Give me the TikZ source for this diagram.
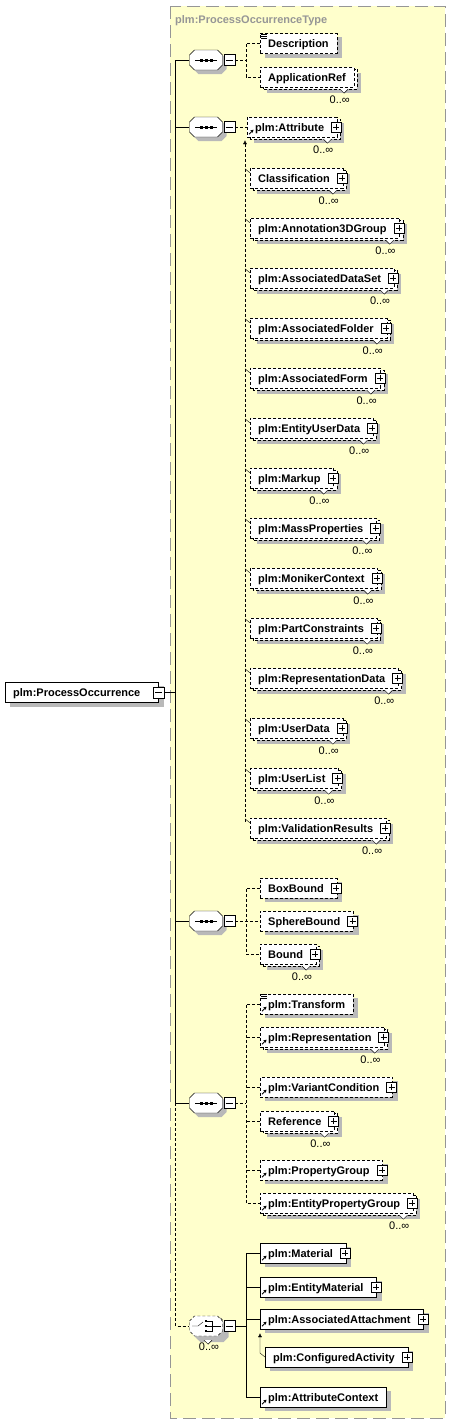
\documentclass[tikz,border=0pt]{standalone}
\usepackage{fontspec}
\setmainfont{Liberation Sans}
\usetikzlibrary{positioning,arrows.meta}
\pgfdeclarelayer{typebg}
\pgfdeclarelayer{shade}
\pgfsetlayers{typebg,shade,main}
\definecolor{typeyellow}{RGB}{255,255,204}
\definecolor{typegray}{RGB}{150,150,150}
\definecolor{shadowgray}{RGB}{185,185,185}
\newcommand\pad{\hspace*{5pt}}
\newcommand\plusbox[1]{\node[plusbox] (#1-p) at ([xshift=-1pt]#1.east) {};}
\newcommand\refmark[1]{\draw[refarrow] ([shift={(2pt,3pt)}]#1.south west) -- ++(4.5pt,4.5pt);}
\newcommand\textmark[1]{\foreach \k in {1,3,5} \draw[line width=.7pt] ([shift={(1pt,-\k pt)}]#1.north west) -- ++(6pt,0pt);}
\newcommand\boxshadow[1]{\begin{pgfonlayer}{shade}
  \fill[shadowgray] ([shift={(5pt,-4pt)}]#1.south west) rectangle ([shift={(5pt,-4pt)}]#1.north east);
  \end{pgfonlayer}}
\newcommand\multibox[1]{\begin{pgfonlayer}{shade}
  \fill[shadowgray] ([shift={(7pt,-6pt)}]#1.south west) rectangle ([shift={(7pt,-6pt)}]#1.north east);
  \draw[dline, fill=white] ([shift={(3pt,-2pt)}]#1.south west) rectangle ([shift={(3pt,-2pt)}]#1.north east);
  \end{pgfonlayer}
  \draw[fill=white] ([shift={(-14pt,-2pt)}]#1.south east) -- ++(4pt,-4pt) -- ++(4pt,4pt);
  \node[occ, below left=8pt and 4pt of #1.south east] (#1-o) {0..∞};}
\newcommand\substick[1]{\draw ([shift={(-5pt,-1pt)}]#1.north west) -- ([yshift=-5pt]#1.north west);}
\newcommand\seqicon{\draw (-11,0) -- (11,0);
  \foreach \dx in {-5,0,5} \fill (\dx-1.5,-1.5) rectangle ++(3,3);}
\newcommand\choiceicon{\draw (-14,0) -- (-8,0) -- (-3,-4);
  \foreach \dy in {-5,0,5} \fill (-1.4,\dy-1.4) rectangle ++(2.8,2.8);
  \draw (1,-5) -- (6,-5) -- (6,5) -- (1,5) (1,0) -- (15,0);}
\newcommand\symbolbox[5]{%
  \begin{scope}[shift={(#2,#3)}]
    \fill[shadowgray, shift={(4,4)}, oct];
    \draw[fill=white, #4, oct];
    #5
  \end{scope}
  \node[symbol] (#1) at (#2,#3) {};}
\tikzset{
  el/.style={draw, fill=white, anchor=west, font=\fontsize{11}{13}\selectfont\bfseries, inner xsep=8pt, inner ysep=0pt,
    minimum height=20pt, text height=8pt, text depth=0pt},
  opt/.style={el, dash pattern=on 3pt off 2pt},
  plusbox/.style={draw, solid, fill=white, minimum size=10pt, inner sep=0pt,
    path picture={\draw ([xshift=-3pt]path picture bounding box.center) -- ([xshift=3pt]path picture bounding box.center)
      ([yshift=-3pt]path picture bounding box.center) -- ([yshift=3pt]path picture bounding box.center);}},
  minus/.style={draw, solid, fill=white, minimum size=11pt, inner sep=0pt,
    path picture={\draw ([xshift=-3.5pt]path picture bounding box.center) -- ([xshift=3.5pt]path picture bounding box.center);}},
  refarrow/.style={line width=1pt, -{Stealth[length=3pt,width=3.5pt]}},
  occ/.style={inner sep=0pt},
  dline/.style={dash pattern=on 3pt off 2pt},
  oct/.style={insert path={(-16.5,-5) -- (-11.5,-10) -- (11.5,-10) -- (16.5,-5) -- (16.5,5) -- (11.5,10) -- (-11.5,10) -- (-16.5,5) -- cycle}},
  symbol/.style={rectangle, minimum width=33pt, minimum height=20pt, inner sep=0pt}
}
\begin{document}
\begin{tikzpicture}[x=1pt, y=-1pt, line width=1pt, font=\fontsize{11}{13}\selectfont]
\useasboundingbox (0,0) rectangle (451,1425);
\begin{pgfonlayer}{typebg}
\draw[typegray, dash pattern=on 13pt off 6pt, fill=typeyellow] (170,6) rectangle (445,1418);
\end{pgfonlayer}
\node[anchor=base west, inner sep=0pt, text=typegray, font=\fontsize{11}{13}\selectfont\bfseries] (title) at (175,23) {plm:ProcessOccurrenceType};

\node[el] (root) at (5,692.5) {plm:ProcessOccurrence\hspace*{10pt}}; \boxshadow{root}
\node[minus] (root-m) at (root.east) {};

\symbolbox{s1}{206}{60}{}{\seqicon}
\symbolbox{s2}{206}{127}{}{\seqicon}
\symbolbox{s3}{206}{921}{}{\seqicon}
\symbolbox{s4}{206}{1103}{}{\seqicon}
\begin{scope}[shift={(206,1326)}]
  \fill[shadowgray, shift={(6,6)}, oct];
  \draw[fill=white, dline, shift={(3,2)}, oct];
\end{scope}
\symbolbox{ch}{206}{1326}{dline}{\choiceicon}
\foreach \s in {s1,s2,s3,s4,ch} \node[minus] (\s-m) at ([xshift=6.5pt]\s.east) {};
\draw[fill=white] ([shift={(-2pt,-4pt)}]ch.south) -- ++(4pt,-4pt) -- ++(4pt,4pt);
\node[occ, below=6pt of ch.south, xshift=3pt] (ch-o) {0..∞};

\coordinate (trunk) at (175.5,692.5);
\draw (root-m.east) -- (trunk);
\draw (trunk |- s1.west) -- (trunk |- s4.west);
\foreach \s in {s1,s2,s3,s4} \draw (trunk |- \s.west) -- (\s.west);
\draw[dline] (trunk |- s4.west) |- (ch.west);

\node[opt] (desc) at (260,43.5) {Description}; \boxshadow{desc} \textmark{desc}
\node[opt] (appref) at (260,77) {ApplicationRef}; \multibox{appref}
\draw[dline] (desc.west) -| ([xshift=11pt]s1-m.east) |- (appref.west);
\draw[dline] (s1-m.east) -- ++(11pt,0pt);

\node[opt] (attr) at (247,127) {plm:Attribute\pad}; \multibox{attr} \plusbox{attr} \refmark{attr}
\draw[dline] (s2-m.east) -- (attr.west);
\foreach \nm/\txt [count=\i from 0] in {cls/Classification, a3d/plm:Annotation3DGroup, adset/plm:AssociatedDataSet,
  afold/plm:AssociatedFolder, aform/plm:AssociatedForm, eud/plm:EntityUserData, mkup/plm:Markup, mass/plm:MassProperties,
  mon/plm:MonikerContext, pcon/plm:PartConstraints, rdat/plm:RepresentationData, udat/plm:UserData, ulist/plm:UserList,
  vres/plm:ValidationResults} {
  \node[opt] (\nm) at (250,178+50*\i) {\txt\pad};
  \multibox{\nm} \plusbox{\nm} \substick{\nm}
}
\draw[dline, -{Latex[length=4pt,width=4pt]}] ([shift={(-5pt,-4pt)}]vres.north west) -- ([shift={(-2pt,-3pt)}]attr.south west);

\node[opt] (boxb) at (260,888) {BoxBound\pad}; \boxshadow{boxb} \plusbox{boxb}
\node[opt] (sphb) at (260,921) {SphereBound\pad}; \boxshadow{sphb} \plusbox{sphb}
\node[opt] (bound) at (260,954) {Bound\pad}; \multibox{bound} \plusbox{bound}
\draw[dline] (boxb.west) -| ([xshift=11pt]s3-m.east) |- (bound.west);
\draw[dline] (s3-m.east) -- (sphb.west);

\node[opt] (trans) at (260,1004) {plm:Transform}; \boxshadow{trans} \refmark{trans} \textmark{trans}
\node[opt] (repr) at (260,1037) {plm:Representation\pad}; \multibox{repr} \plusbox{repr} \refmark{repr}
\node[opt] (varc) at (260,1087) {plm:VariantCondition\pad}; \boxshadow{varc} \plusbox{varc} \refmark{varc}
\node[opt] (refr) at (260,1121) {Reference\pad}; \multibox{refr} \plusbox{refr}
\node[opt] (propg) at (260,1170) {plm:PropertyGroup\pad}; \boxshadow{propg} \plusbox{propg} \refmark{propg}
\node[opt] (epropg) at (260,1203) {plm:EntityPropertyGroup\pad}; \multibox{epropg} \plusbox{epropg} \refmark{epropg}
\draw[dline] (trans.west) -| ([xshift=11pt]s4-m.east) |- (epropg.west);
\foreach \n in {repr,varc,refr,propg} \draw[dline] (\n.west) -- ++(-14pt,0pt);
\draw[dline] (s4-m.east) -- ++(11pt,0pt);

\node[el] (mat) at (260,1253) {plm:Material\pad}; \boxshadow{mat} \plusbox{mat} \refmark{mat}
\node[el] (emat) at (260,1287) {plm:EntityMaterial\pad}; \boxshadow{emat} \plusbox{emat} \refmark{emat}
\node[el] (assoc) at (260,1319) {plm:AssociatedAttachment\pad}; \boxshadow{assoc} \plusbox{assoc} \refmark{assoc}
\node[el] (cfg) at (265,1357) {plm:ConfiguredActivity\pad}; \boxshadow{cfg} \plusbox{cfg}
\node[el] (attc) at (260,1397) {plm:AttributeContext}; \boxshadow{attc} \refmark{attc}
\draw (mat.west) -| ([xshift=11pt]ch-m.east) |- (attc.west);
\foreach \n in {emat,assoc} \draw (\n.west) -- ++(-14pt,0pt);
\draw (ch-m.east) -- ++(11pt,0pt);
\draw[-{Latex[length=4pt,width=4pt]}] (cfg.west) -- ++(-5pt,4pt) -- ([yshift=-4pt]assoc.south west);
\end{tikzpicture}
\end{document}
